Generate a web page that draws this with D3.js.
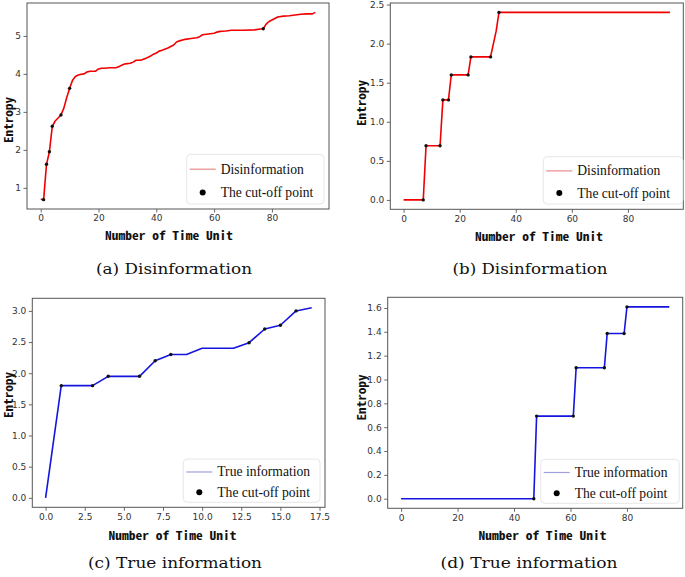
<!DOCTYPE html>
<html><head><meta charset="utf-8">
<script src="https://cdn.jsdelivr.net/npm/d3@7"></script>
<style>body{margin:0;background:#fff}svg{display:block}</style>
</head><body><svg id="c" width="685" height="577"></svg>
<script>
// ---- data ----
const timeA    = [0,1,2,3,4,5,6,7,8,9,10,11,12,13,14,15,16,17,18,19,20,21,22,24,26,27,28,29,30,31,32,33,34,35,36,37,38,39,40,41,42,44,46,47,48,50,52,54,55,56,58,60,61,62,64,66,70,74,76,77,78,79,80,81,82,84,86,88,90,92,94,95];
const entropyA = [0.70,0.69,1.62,1.95,2.62,2.76,2.84,2.92,3.10,3.38,3.62,3.83,3.93,3.97,3.99,4.00,4.05,4.07,4.07,4.07,4.13,4.15,4.15,4.16,4.16,4.19,4.23,4.26,4.27,4.28,4.31,4.36,4.36,4.37,4.40,4.43,4.47,4.52,4.55,4.60,4.62,4.68,4.76,4.84,4.87,4.91,4.93,4.95,4.98,5.03,5.05,5.07,5.10,5.12,5.13,5.15,5.15,5.16,5.18,5.19,5.31,5.38,5.42,5.46,5.50,5.52,5.53,5.55,5.57,5.58,5.58,5.62];
const cutTimeA    = [1,2,3,4,7,10,77];
const cutEntropyA = [0.69,1.62,1.95,2.62,2.92,3.62,5.19];

const timeB    = [0,7,8,13,14,16,17,23,24,31,33,34,95];
const entropyB = [0,0,0.693,0.693,1.28,1.28,1.60,1.60,1.83,1.83,2.16,2.40,2.40];
const cutTimeB    = [7,8,13,14,16,17,23,24,31,34];
const cutEntropyB = [0,0.693,0.693,1.28,1.28,1.60,1.60,1.83,1.83,2.40];

const timeC    = [0,1,2,3,4,5,6,7,8,9,10,11,12,13,14,15,16,17];
const entropyC = [0,1.80,1.80,1.80,1.95,1.95,1.95,2.20,2.30,2.30,2.40,2.40,2.40,2.49,2.71,2.77,3.00,3.05];
const cutTimeC    = [1,3,4,6,7,8,13,14,15,16];
const cutEntropyC = [1.80,1.80,1.95,1.95,2.20,2.30,2.49,2.71,2.77,3.00];

const timeD    = [0,47,48,61,62,72,73,79,80,95];
const entropyD = [0,0,0.693,0.693,1.099,1.099,1.386,1.386,1.609,1.609];
const cutTimeD    = [47,48,61,62,72,73,79,80];
const cutEntropyD = [0,0.693,0.693,1.099,1.099,1.386,1.386,1.609];

const xTicksA = [0,20,40,60,80], yTicksA = [1,2,3,4,5];
const xTicksB = [0,20,40,60,80], yTicksB = [0,0.5,1.0,1.5,2.0,2.5];
const xTicksC = [0,2.5,5,7.5,10,12.5,15,17.5], yTicksC = [0,0.5,1.0,1.5,2.0,2.5,3.0];
const xTicksD = [0,20,40,60,80], yTicksD = [0,0.2,0.4,0.6,0.8,1.0,1.2,1.4,1.6];

const seriesLabels = ["Disinformation","Disinformation","True information","True information"];
const cutLabel = "The cut-off point";
const captions = ["(a)  Disinformation","(b)  Disinformation","(c)  True information","(d)  True information"];
const xTitle = "Number of Time Unit", yTitle = "Entropy";

// ---- layout ----
const svg = d3.select("#c");
svg.append("rect").attr("width",685).attr("height",577).attr("fill","#fff");

const panels = [
  {t:timeA,v:entropyA,ct:cutTimeA,cv:cutEntropyA,xt:xTicksA,yt:yTicksA,xf:d3.format("d"),yf:d3.format("d"),
   box:[27,3,329,209],xd:[-4.75,99.75],yd:[0.4435,5.8665],color:"#f00000",leg:"#e88a8a",
   lbl:seriesLabels[0],legBox:[186.7,154.3,324,204],xl:[169,240],yl:[12.5,120],cap:[captions[0],174,274,156]},
  {t:timeB,v:entropyB,ct:cutTimeB,cv:cutEntropyB,xt:xTicksB,yt:yTicksB,xf:d3.format("d"),yf:d3.format(".1f"),
   box:[390.3,3,683.3,209.3],xd:[-4.75,99.75],yd:[-0.12,2.52],color:"#f00000",leg:"#e88a8a",
   lbl:seriesLabels[1],legBox:[543.3,156.7,683,204],xl:[539,240.5],yl:[366,103],cap:[captions[1],530,274,155]},
  {t:timeC,v:entropyC,ct:cutTimeC,cv:cutEntropyC,xt:xTicksC,yt:yTicksC,xf:d3.format(".1f"),yf:d3.format(".1f"),
   box:[32.3,298.3,325,507.3],xd:[-0.85,17.85],yd:[-0.1525,3.2025],color:"#1515e0",leg:"#a0a0dc",
   lbl:seriesLabels[2],legBox:[183.3,459,320,502.3],xl:[172.5,540],yl:[12.5,395],cap:[captions[2],175,568,174]},
  {t:timeD,v:entropyD,ct:cutTimeD,cv:cutEntropyD,xt:xTicksD,yt:yTicksD,xf:d3.format("d"),yf:d3.format(".1f"),
   box:[387.7,297.3,682.7,508.3],xd:[-4.75,99.75],yd:[-0.0805,1.6895],color:"#1515e0",leg:"#a0a0dc",
   lbl:seriesLabels[3],legBox:[540.7,459.3,679.3,503.3],xl:[542.5,539.5],yl:[366,397.5],cap:[captions[3],529,568,177]}
];

const tickFont = "DejaVu Sans";
const labFont = "'Noto Sans Mono CJK SC','DejaVu Sans Mono',monospace";

panels.forEach(p=>{
  const [x0,y0,x1,y1] = p.box;
  const x = d3.scaleLinear().domain(p.xd).range([x0,x1]);
  const y = d3.scaleLinear().domain(p.yd).range([y1,y0]);
  const g = svg.append("g");

  // axes
  const ax = g.append("g").attr("transform",`translate(0,${y1})`)
    .call(d3.axisBottom(x).tickValues(p.xt).tickFormat(p.xf).tickSize(3.5).tickPadding(2.5));
  const ay = g.append("g").attr("transform",`translate(${x0},0)`)
    .call(d3.axisLeft(y).tickValues(p.yt).tickFormat(p.yf).tickSize(3.5).tickPadding(2.5));
  [ax,ay].forEach(a=>{
    a.select(".domain").remove();
    a.selectAll(".tick line").attr("stroke","#444").attr("stroke-width",0.8);
    a.selectAll(".tick text").attr("font-family",tickFont).attr("font-size",9).attr("fill","#333");
  });

  // line
  const pts = p.t.map((t,i)=>[t,p.v[i]]);
  g.append("path").datum(pts)
    .attr("d",d3.line().x(d=>x(d[0])).y(d=>y(d[1])))
    .attr("fill","none").attr("stroke",p.color).attr("stroke-width",1.6).attr("stroke-linejoin","round");
  // cut points
  g.selectAll("circle.cut").data(p.ct.map((t,i)=>[t,p.cv[i]])).enter().append("circle")
    .attr("cx",d=>x(d[0])).attr("cy",d=>y(d[1])).attr("r",1.7).attr("fill","#111");

  // frame
  g.append("rect").attr("x",x0).attr("y",y0).attr("width",x1-x0).attr("height",y1-y0)
    .attr("fill","none").attr("stroke","#555").attr("stroke-width",1);

  // legend
  const [lx0,ly0,lx1,ly1] = p.legBox;
  g.append("rect").attr("x",lx0).attr("y",ly0).attr("width",lx1-lx0).attr("height",ly1-ly0)
    .attr("rx",4).attr("fill","#fff").attr("fill-opacity",0.85).attr("stroke","#e0e0e0").attr("stroke-width",0.8);
  const r1 = ly0 + (ly1-ly0)*0.30, r2 = ly0 + (ly1-ly0)*0.77;
  g.append("line").attr("x1",lx0+3).attr("x2",lx0+29).attr("y1",r1).attr("y2",r1)
    .attr("stroke",p.leg).attr("stroke-width",1.2);
  g.append("circle").attr("cx",lx0+16).attr("cy",r2).attr("r",3).attr("fill","#000");
  g.append("text").attr("x",lx0+34).attr("y",r1+4.5).text(p.lbl)
    .attr("font-family","'Liberation Serif',serif").attr("font-size",13.6).attr("fill","#111");
  g.append("text").attr("x",lx0+34).attr("y",r2+4.5).text(cutLabel)
    .attr("font-family","'Liberation Serif',serif").attr("font-size",13.6).attr("fill","#111");

  // axis titles
  g.append("text").attr("x",p.xl[0]).attr("y",p.xl[1]).attr("text-anchor","middle").text(xTitle)
    .attr("font-family",labFont).attr("font-weight","bold").attr("font-size",12).attr("fill","#111")
    .attr("textLength",128).attr("lengthAdjust","spacingAndGlyphs");
  g.append("text").attr("transform",`translate(${p.yl[0]},${p.yl[1]}) rotate(-90)`)
    .attr("text-anchor","middle").text(yTitle)
    .attr("font-family",labFont).attr("font-weight","bold").attr("font-size",12).attr("fill","#111")
    .attr("textLength",46).attr("lengthAdjust","spacingAndGlyphs");

  // caption
  g.append("text").attr("x",p.cap[1]).attr("y",p.cap[2]).attr("text-anchor","middle").text(p.cap[0])
    .attr("font-family","'DejaVu Serif',serif").attr("font-size",15.5).attr("fill","#111")
    .attr("textLength",p.cap[3]).attr("lengthAdjust","spacingAndGlyphs");
});
</script></body></html>
